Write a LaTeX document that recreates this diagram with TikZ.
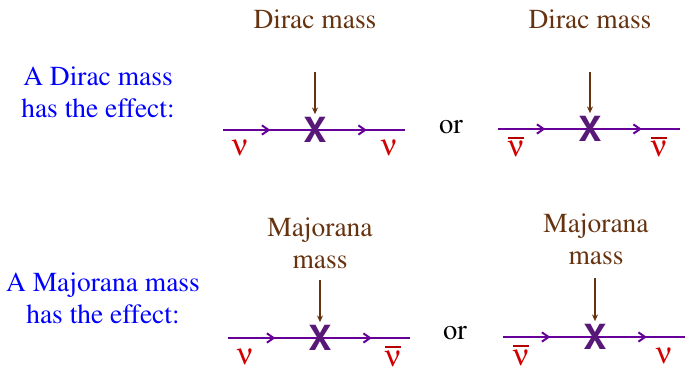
\documentclass[tikz,border=0pt]{standalone}
\usepackage[T1]{fontenc}
\usepackage{mathptmx}
\usepackage{helvet}
\usetikzlibrary{arrows.meta, decorations.markings}
\definecolor{linepurple}{RGB}{102,0,153}
\definecolor{xpurple}{RGB}{88,24,120}
\definecolor{massbrown}{RGB}{102,51,17}
\definecolor{nured}{RGB}{210,0,0}
\definecolor{barred}{RGB}{180,0,0}
\definecolor{effblue}{RGB}{0,0,255}
\newcommand{\nusym}{{\usefont{U}{psy}{m}{n}n}}
\newcommand{\antinu}{\vbox{\color{barred}\hrule height 1.7pt\kern 2pt\hbox{\color{nured}\nusym}}}
\tikzstyle{fermion} = [draw=linepurple, line width=1.5pt, postaction={decorate}, decoration={markings, mark=at position 0.26 with {\arrow{Straight Barb[length=5pt,width=7pt]}}, mark=at position 0.79 with {\arrow{Straight Barb[length=5pt,width=7pt]}}}]
\tikzstyle{massarrow} = [draw=massbrown, line width=1.1pt, -{Stealth[length=5pt,width=4.5pt]}, shorten >=2.5pt]
\tikzstyle{vertex} = [text=xpurple, font=\sffamily\bfseries\fontsize{26}{26}\selectfont, inner sep=0pt]
\tikzstyle{nulabel} = [text=nured, font=\fontsize{23}{23}\selectfont, inner sep=0pt]
\tikzstyle{masslabel} = [text=massbrown, font=\fontsize{20.6}{23.5}\selectfont, align=center, inner sep=0pt, anchor=base]
\tikzstyle{effect} = [text=effblue, font=\fontsize{20.6}{24}\selectfont, align=center, inner sep=0pt, anchor=base]
\tikzstyle{ortext} = [font=\fontsize{21.5}{21.5}\selectfont, inner sep=0pt, anchor=base]

\begin{document}
\begin{tikzpicture}[x=0.75pt,y=-0.75pt]
\useasboundingbox (0,0) rectangle (692,375);

% Dirac mass
\node (dtext) [effect] at (98,117) {A Dirac mass\\has the effect:};
\node (dlabA) [masslabel] at (315,28) {Dirac mass};
\node (dlabB) [masslabel] at (590,28) {Dirac mass};
\node (dor) [ortext] at (451,133) {or};

\coordinate (dAin) at (223,130);
\coordinate (dAout) at (405,130);
\coordinate (dAtop) at (315,72);
\draw [fermion] (dAin) -- (dAout);
\node (dAx) [vertex] at (315,130) {X};
\draw [massarrow] (dAtop) -- (dAx.north);
\node (dAnuin) [nulabel] at (240,148) {\nusym};
\node (dAnuout) [nulabel] at (389,148) {\nusym};

\coordinate (dBin) at (498,129);
\coordinate (dBout) at (680,129);
\coordinate (dBtop) at (590,72);
\draw [fermion] (dBin) -- (dBout);
\node (dBx) [vertex] at (590,129) {X};
\draw [massarrow] (dBtop) -- (dBx.north);
\node (dBnuin) [nulabel] at (516,147) {\antinu};
\node (dBnuout) [nulabel] at (659,147) {\antinu};

% Majorana mass
\node (mtext) [effect] at (103,323) {A Majorana mass\\has the effect:};
\node (mlabA) [masslabel] at (320,268) {Majorana\\mass};
\node (mlabB) [masslabel] at (596,264) {Majorana\\mass};
\node (mor) [ortext] at (455,339) {or};

\coordinate (mAin) at (228,338);
\coordinate (mAout) at (410,338);
\coordinate (mAtop) at (320,280);
\draw [fermion] (mAin) -- (mAout);
\node (mAx) [vertex] at (320,338) {X};
\draw [massarrow] (mAtop) -- (mAx.north);
\node (mAnuin) [nulabel] at (245,357) {\nusym};
\node (mAnuout) [nulabel] at (393,356) {\antinu};

\coordinate (mBin) at (503,337);
\coordinate (mBout) at (685,337);
\coordinate (mBtop) at (595,278);
\draw [fermion] (mBin) -- (mBout);
\node (mBx) [vertex] at (595,337) {X};
\draw [massarrow] (mBtop) -- (mBx.north);
\node (mBnuin) [nulabel] at (521,355) {\antinu};
\node (mBnuout) [nulabel] at (664,356) {\nusym};

\end{tikzpicture}
\end{document}
